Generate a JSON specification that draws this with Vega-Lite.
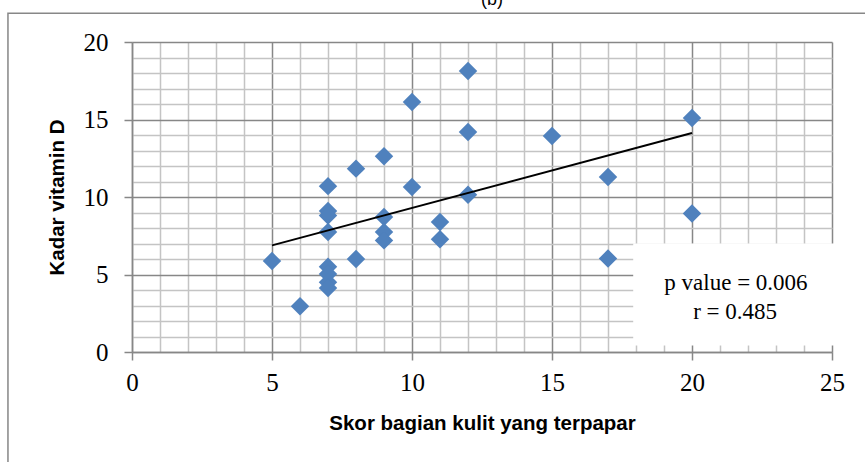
{
  "$schema": "https://vega.github.io/schema/vega-lite/v6.json",
  "width": 700,
  "height": 310,
  "autosize": {"type": "none"},
  "padding": {"left": 132, "top": 42, "right": 33, "bottom": 110},
  "background": "white",
  "config": {"view": {"stroke": null}},
  "title": {"text": "(b)", "font": "Liberation Sans", "fontSize": 18, "fontWeight": "normal", "color": "#000000", "anchor": "middle", "offset": 4, "dx": 10},
  "datasets": {
    "points": [
      {"skor": 5, "vitd": 5.87},
      {"skor": 6, "vitd": 2.95},
      {"skor": 7, "vitd": 10.7},
      {"skor": 7, "vitd": 9.1},
      {"skor": 7, "vitd": 8.8},
      {"skor": 7, "vitd": 7.74},
      {"skor": 7, "vitd": 5.5},
      {"skor": 7, "vitd": 5.03},
      {"skor": 7, "vitd": 4.5},
      {"skor": 7, "vitd": 4.13},
      {"skor": 8, "vitd": 11.83},
      {"skor": 8, "vitd": 6.0},
      {"skor": 9, "vitd": 12.63},
      {"skor": 9, "vitd": 8.71},
      {"skor": 9, "vitd": 7.74},
      {"skor": 9, "vitd": 7.2},
      {"skor": 10, "vitd": 16.13},
      {"skor": 10, "vitd": 10.65},
      {"skor": 11, "vitd": 8.39},
      {"skor": 11, "vitd": 7.27},
      {"skor": 12, "vitd": 18.13},
      {"skor": 12, "vitd": 14.19},
      {"skor": 12, "vitd": 10.15},
      {"skor": 15, "vitd": 13.94},
      {"skor": 17, "vitd": 11.29},
      {"skor": 17, "vitd": 6.03},
      {"skor": 20, "vitd": 15.1},
      {"skor": 20, "vitd": 8.93}
    ],
    "trend": [
      {"skor": 5, "vitd": 6.88},
      {"skor": 20, "vitd": 14.13}
    ]
  },
  "layer": [
    {
      "data": {"name": "points"},
      "mark": {"type": "point", "shape": "diamond", "filled": true, "size": 340, "color": "#4f81bd", "opacity": 1},
      "encoding": {
        "x": {
          "field": "skor", "type": "quantitative",
          "scale": {"domain": [0, 25], "nice": false, "zero": false},
          "axis": {
            "values": [0,1,2,3,4,5,6,7,8,9,10,11,12,13,14,15,16,17,18,19,20,21,22,23,24,25],
            "tickCount": 40, "format": "d",
            "title": "Skor bagian kulit yang terpapar",
            "titleFont": "Liberation Sans", "titleFontWeight": "bold", "titleFontSize": 20.5, "titleColor": "#000000",
            "titleY": 77, "titleBaseline": "alphabetic",
            "labelFont": "Liberation Serif", "labelFontSize": 25, "labelColor": "#000000",
            "labelExpr": "datum.value % 5 === 0 ? datum.label : ''",
            "labelPadding": 10, "labelFlush": false, "labelOverlap": false, "labelBound": false,
            "tickSize": 8, "tickWidth": 1.5,
            "tickColor": {"condition": {"test": "datum.value % 5 === 0", "value": "#878787"}, "value": "transparent"},
            "grid": true, "gridWidth": 1.5,
            "gridColor": {"condition": {"test": "datum.value % 5 === 0", "value": "#878787"}, "value": "#c4c4c4"},
            "domainColor": "#878787", "domainWidth": 1.5
          }
        },
        "y": {
          "field": "vitd", "type": "quantitative",
          "scale": {"domain": [0, 20], "nice": false, "zero": false},
          "axis": {
            "values": [0,1,2,3,4,5,6,7,8,9,10,11,12,13,14,15,16,17,18,19,20],
            "tickCount": 40, "format": "d",
            "title": "Kadar vitamin D",
            "titleFont": "Liberation Sans", "titleFontWeight": "bold", "titleFontSize": 20.5, "titleColor": "#000000",
            "titleX": -69, "titleBaseline": "alphabetic", "titleAnchor": "middle",
            "labelFont": "Liberation Serif", "labelFontSize": 25, "labelColor": "#000000",
            "labelExpr": "datum.value % 5 === 0 ? datum.label : ''",
            "labelPadding": 16, "labelFlush": false, "labelOverlap": false, "labelBound": false,
            "tickSize": 8, "tickWidth": 1.5,
            "tickColor": {"condition": {"test": "datum.value % 5 === 0", "value": "#878787"}, "value": "transparent"},
            "grid": true, "gridWidth": 1.5,
            "gridColor": {"condition": {"test": "datum.value % 5 === 0", "value": "#878787"}, "value": "#c4c4c4"},
            "domainColor": "#878787", "domainWidth": 1.5
          }
        }
      }
    },
    {
      "data": {"name": "trend"},
      "mark": {"type": "line", "color": "#000000", "strokeWidth": 2},
      "encoding": {
        "x": {"field": "skor", "type": "quantitative"},
        "y": {"field": "vitd", "type": "quantitative"}
      }
    },
    {
      "data": {"values": [{}]},
      "mark": {"type": "rect", "fill": null, "filled": false, "stroke": "#878787", "strokeWidth": 1.5},
      "encoding": {
        "x": {"datum": -4.43},
        "x2": {"datum": 26.6},
        "y": {"datum": 21.85},
        "y2": {"datum": -8}
      }
    },
    {
      "data": {"values": [{}]},
      "mark": {"type": "rect", "fill": "#ffffff", "stroke": null},
      "encoding": {
        "x": {"datum": 17.9},
        "x2": {"datum": 25.3},
        "y": {"datum": 7.0},
        "y2": {"datum": 0.42}
      }
    },
    {
      "data": {"values": [{}]},
      "mark": {"type": "text", "font": "Liberation Serif", "fontSize": 23, "color": "#000000", "align": "center", "baseline": "alphabetic"},
      "encoding": {
        "x": {"datum": 21.57},
        "y": {"datum": 3.98},
        "text": {"value": "p value = 0.006"}
      }
    },
    {
      "data": {"values": [{}]},
      "mark": {"type": "text", "font": "Liberation Serif", "fontSize": 23, "color": "#000000", "align": "center", "baseline": "alphabetic"},
      "encoding": {
        "x": {"datum": 21.54},
        "y": {"datum": 2.15},
        "text": {"value": "r = 0.485"}
      }
    }
  ]
}
